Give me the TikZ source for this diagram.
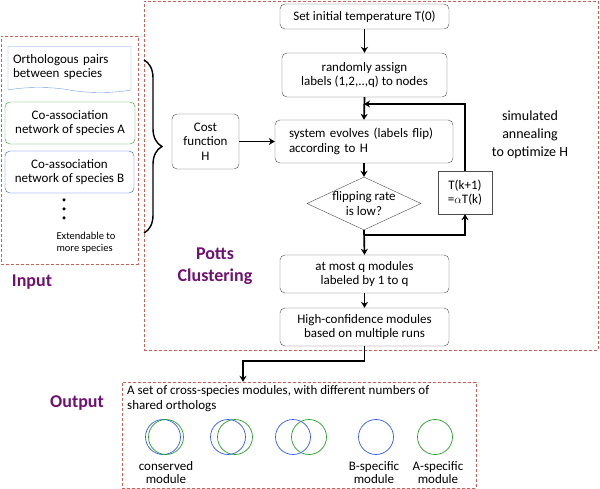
\documentclass[tikz,border=0pt]{standalone}
\usepackage{fontspec}
\setmainfont{Carlito}
\usetikzlibrary{positioning, arrows.meta, shapes.geometric, shapes.symbols, fit, decorations.pathreplacing}

\definecolor{regionred}{RGB}{214,92,82}
\definecolor{modblue}{RGB}{50,90,250}
\definecolor{modgreen}{RGB}{40,160,40}
\definecolor{headpurple}{RGB}{112,16,112}
\definecolor{docblue}{RGB}{110,160,225}

\begin{document}
\begin{tikzpicture}[x=1pt, y=-1pt,
  proc/.style={draw=black!70, rounded corners=5pt, align=center, inner sep=2pt,
    font=\fontsize{13}{14.5}\selectfont},
  arrow/.style={-{Stealth[length=6pt, width=7pt]}, line width=1.7pt},
  region/.style={draw=regionred, densely dashed, inner sep=0pt},
  heading/.style={font=\fontsize{18}{22}\selectfont\bfseries, text=headpurple},
  modA/.style={circle, draw=modgreen, minimum size=35pt, inner sep=0pt, line width=0.7pt},
  modB/.style={circle, draw=modblue, minimum size=35pt, inner sep=0pt, line width=0.7pt},
  lbl/.style={align=center, font=\fontsize{13}{13}\selectfont}
]
\useasboundingbox (0,0) rectangle (600,489);

% Regions
\node[region, minimum width=454pt, minimum height=349pt] (potts) at (371,175.5) {};
\node[region, minimum width=137pt, minimum height=228pt] (input) at (69.5,150) {};
\node[region, minimum width=354pt, minimum height=106pt] (outbox) at (299,435) {};

% Input
\node[tape, draw=docblue, tape bend top=none, tape bend bottom=out and in, tape bend height=5pt,
  minimum width=123pt, minimum height=46pt, text width=113pt, align=left, inner sep=2pt,
  font=\fontsize{13}{14.5}\selectfont] (ortho) at (69.5,67) {Orthologous pairs\\between species\\[2pt]};
\node[proc, draw=modgreen, minimum width=130pt, minimum height=42pt] (netA) at (70,123) {Co-association\\network of species A};
\node[proc, draw=modblue, minimum width=129pt, minimum height=42pt] (netB) at (69.5,172) {Co-association\\network of species B};
\foreach \y [count=\i] in {200,209,218}
  \node[circle, fill=black, inner sep=0pt, minimum size=3.5pt] (dot\i) at (64,\y) {};
\node[align=left, font=\fontsize{10.5}{12}\selectfont] (extend) at (86,243) {Extendable to\\more species};

\coordinate (bracetop) at (144,60);
\coordinate (bracebot) at (144,233);
\draw[line width=1.4pt, decorate, decoration={brace, amplitude=18pt}] (bracetop) -- (bracebot);

% Potts clustering
\node[proc, minimum width=169pt, minimum height=25pt] (init) at (364.5,16.5) {Set initial temperature T(0)};
\node[proc, minimum width=165pt, minimum height=44pt] (assign) at (364.5,75) {randomly assign\\labels (1,2,..,q) to nodes};
\node[proc, minimum height=43pt, text width=150pt, inner xsep=14pt, align=left] (evolve) at (364,141.5) {system evolves (labels flip)\\according to H};
\node[draw=black!70, diamond, aspect=2.15, minimum width=114pt, minimum height=53pt, inner sep=0pt,
  align=center, font=\fontsize{13}{14.5}\selectfont] (rate) at (364,203.5) {flipping rate\\is low?};
\node[draw=black!70, minimum width=54pt, minimum height=43pt, align=center, inner sep=1pt,
  font=\fontsize{13}{14.5}\selectfont] (temp) at (465,192.5) {T(k+1)\\=$\alpha$T(k)};
\node[proc, minimum width=169pt, minimum height=38pt] (modules) at (364.5,274) {at most q modules\\labeled by 1 to q};
\node[proc, minimum width=169pt, minimum height=38pt] (highconf) at (364.5,327) {High-confidence modules\\based on multiple runs};
\node[proc, minimum width=67pt, minimum height=55pt] (cost) at (205.5,141.5) {Cost\\function\\H};
\node[align=center, font=\fontsize{14}{18}\selectfont] (anneal) at (530,135) {simulated\\annealing\\to optimize H};

\coordinate (loopin) at (364,104);
\coordinate (split) at (364,235);
\coordinate (turn) at (243,361);

\draw[arrow] (init) -- (assign);
\draw[arrow] (assign.south) -- (evolve.north);
\draw[arrow] (temp.north) |- (loopin);
\draw[arrow] (cost) -- (evolve);
\draw[arrow] (evolve.south) -- (rate.north);
\draw[arrow] (rate.south) -- (modules.north);
\draw[arrow] (split) -| (temp.south);
\draw[arrow] (modules) -- (highconf);
\draw[arrow] (highconf.south) |- (turn) -- (turn |- outbox.north);

% Headings
\node[heading] (inlabel) at (32,282) {Input};
\node[heading, align=center] (pottslabel) at (215,266) {Potts\\Clustering};
\node[heading] (outlabel) at (77,403) {Output};

% Output
\node[anchor=north west, align=left, inner sep=0pt, font=\fontsize{13}{15}\selectfont] (outtext) at (127,385)
  {A set of cross-species modules, with different numbers of\\shared orthologs};
\node[modB] (c1b) at (163,437) {};
\node[modA] (c1a) at (166,437) {};
\node[modB] (c2b) at (228,437) {};
\node[modA] (c2a) at (235,437) {};
\node[modB] (c3b) at (293,437) {};
\node[modA] (c3a) at (309,437) {};
\node[modB] (c4b) at (376,437) {};
\node[modA] (c5a) at (435,437) {};
\node[lbl] (conslbl) at (166,472.5) {conserved\\module};
\node[lbl] (blbl) at (374,472.5) {B-specific\\module};
\node[lbl] (albl) at (438,472.5) {A-specific\\module};

\end{tikzpicture}
\end{document}
